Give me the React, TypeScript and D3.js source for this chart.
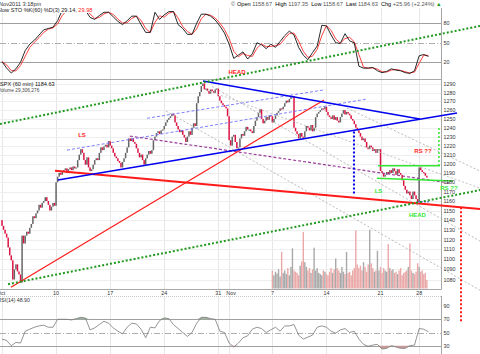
import { useEffect, useRef } from "react";
import * as d3 from "d3";

const W = 480;
const H = 354;
const FONT = "Arial, 'Liberation Sans', sans-serif";

// ── Price: 60-min closes, 7 bars a day (Nov 25 half day = 4, Nov 28 = 6 to 3:18pm)
const FIRST_OPEN = 1140;
const hourlyClose = [
  1134, 1130, 1126, 1122, 1112, 1104, 1099, // Oct 3
  1080, 1090, 1095, 1088, 1085, 1077, 1124, // Oct 4
  1116, 1124, 1128, 1126, 1132, 1136, 1144, // Oct 5
  1142, 1147, 1150, 1156, 1153, 1158, 1160, // Oct 6
  1164, 1160, 1156, 1150, 1154, 1158, 1155, // Oct 7
  1180, 1186, 1190, 1188, 1191, 1193, 1195, // Oct 10
  1190, 1194, 1196, 1193, 1197, 1195, 1196, // Oct 11
  1204, 1210, 1216, 1212, 1204, 1199, 1207, // Oct 12
  1196, 1192, 1194, 1199, 1204, 1206, 1204, // Oct 13
  1212, 1218, 1215, 1219, 1221, 1218, 1225, // Oct 14
  1220, 1217, 1212, 1208, 1206, 1203, 1201, // Oct 17
  1196, 1202, 1206, 1212, 1218, 1228, 1225, // Oct 18
  1228, 1224, 1222, 1217, 1212, 1207, 1210, // Oct 19
  1204, 1199, 1206, 1210, 1214, 1211, 1215, // Oct 20
  1226, 1230, 1234, 1236, 1233, 1237, 1238, // Oct 21
  1242, 1246, 1249, 1251, 1253, 1256, 1254, // Oct 24
  1246, 1242, 1238, 1235, 1237, 1232, 1229, // Oct 25
  1224, 1230, 1236, 1232, 1240, 1245, 1242, // Oct 26
  1268, 1276, 1281, 1288, 1291, 1284, 1285, // Oct 27
  1282, 1279, 1284, 1282, 1280, 1284, 1285, // Oct 28
  1276, 1271, 1268, 1266, 1264, 1262, 1253, // Oct 31
  1226, 1220, 1230, 1232, 1224, 1217, 1218, // Nov 1
  1228, 1233, 1231, 1236, 1241, 1238, 1238, // Nov 2
  1236, 1234, 1242, 1248, 1252, 1257, 1261, // Nov 3
  1250, 1245, 1248, 1252, 1249, 1254, 1253, // Nov 4
  1246, 1250, 1254, 1257, 1259, 1262, 1261, // Nov 7
  1264, 1268, 1271, 1269, 1273, 1276, 1276, // Nov 8
  1240, 1236, 1233, 1228, 1234, 1230, 1229, // Nov 9
  1236, 1242, 1240, 1237, 1243, 1236, 1240, // Nov 10
  1252, 1256, 1258, 1260, 1262, 1261, 1264, // Nov 11
  1258, 1254, 1252, 1250, 1254, 1249, 1252, // Nov 14
  1248, 1246, 1252, 1256, 1260, 1255, 1258, // Nov 15
  1256, 1254, 1250, 1248, 1244, 1240, 1237, // Nov 16
  1234, 1230, 1226, 1228, 1224, 1218, 1216, // Nov 17
  1220, 1218, 1214, 1216, 1212, 1216, 1216, // Nov 18
  1192, 1190, 1186, 1188, 1191, 1189, 1193, // Nov 21
  1190, 1195, 1192, 1188, 1194, 1190, 1188, // Nov 22
  1182, 1176, 1172, 1168, 1170, 1166, 1162, // Nov 23
  1170, 1166, 1162, 1159,                   // Nov 25
  1196, 1193, 1191, 1190, 1187, 1185,       // Nov 28
];

// volume from the Nov 7 bar onward
const VOL_START = 175;
const volume = [
  30, 22, 28, 25, 32, 20, 61, 26, 30, 24, 34, 22, 36, 67, 30, 28, 26, 22, 38, 45,
  94, 44, 36, 30, 34, 26, 32, 68, 30, 34, 26, 24, 22, 30, 28, 24, 22, 28, 34, 26,
  32, 50, 34, 30, 26, 36, 28, 24, 61, 26, 28, 22, 30, 34, 97, 40, 34, 38, 30, 44,
  36, 28, 40, 98, 42, 34, 28, 30, 63, 30, 36, 26, 34, 30, 28, 74, 34, 30, 32, 26,
  28, 24, 30, 34, 22, 26, 28, 30, 36, 75, 30, 26, 24, 28, 42, 36, 28, 30, 24, 26, 14,
];

// indicators, one reading every 3 bars
const STEP = 3;
const stochK = [
  21, 11, 3.5, 10, 20, 38, 48, 54, 62, 70, 72, 74, 84, 100, 100, 100, 100, 100, 100, 89,
  86, 92, 97, 97, 90, 83, 78, 84, 91, 91, 78, 66, 66, 97, 86, 93, 98, 98, 78, 72,
  63, 63, 80, 94, 94, 91, 85, 76, 65, 48, 26, 31, 36, 25, 33, 50, 47, 41, 48, 43,
  52, 61, 68, 62, 43, 31, 24, 35, 45, 77, 76, 62, 50, 49, 64, 53, 50, 14, 11, 11,
  12, 7, 4, 6, 10, 8, 7, 4, 3, 7, 30, 32, 29,
];
const rsi14 = [
  40, 38, 30, 35, 34, 52, 55, 58, 60, 61, 58, 58, 70, 70, 70, 69, 71, 73, 72, 54,
  57, 62, 67, 64, 57, 52, 48, 58, 64, 63, 55, 42, 58, 57, 68, 72, 71, 62, 56, 50,
  44, 50, 64, 73, 73, 71, 70, 52, 50, 34, 28, 34, 42, 45, 55, 58, 56, 50, 54, 58,
  52, 60, 60, 62, 46, 40, 43, 46, 58, 60, 58, 52, 49, 54, 56, 50, 52, 40, 32, 29,
  31, 32, 25, 26, 30, 28, 26, 26, 30, 31, 56, 55, 51,
];

// axis ticks
const priceTicks = [1080, 1090, 1100, 1110, 1120, 1130, 1140, 1150, 1160, 1170, 1180,
  1190, 1200, 1210, 1220, 1230, 1240, 1250, 1260, 1270, 1280, 1290];
const dayTickIdx = [35, 70, 105, 140, 175, 210, 245, 270];
const dayTickLbl = ["10", "17", "24", "31", "7", "14", "21", "28"];
const monthTickIdx = [0, 147];
const monthTickLbl = ["Oct", "Nov"];
const oscTicks = [80, 50, 20];
const rsiTicks = [90, 70, 50, 30];

// hand-drawn lines, [bar, price] end points
const upperGreenDots = [[-1.3, 1244.2], [309.4, 1360.4]];
const lowerGreenDots = [[3.9, 1075.4], [309.4, 1171.6]];
const redNeckline = [[34.3, 1192.3], [309.4, 1151.5]];
const redRising = [[5.8, 1072.5], [208.4, 1271.7]];
const blueSupport = [[36.2, 1182.3], [294.5, 1256.7]];
const blueResist = [[130.1, 1293.9], [270.5, 1249.9]];
const blueDashLow = [[42.1, 1215.0], [236.2, 1272.8]];
const blueDashHigh = [[93.9, 1250.7], [207.8, 1283.3]];
const purpleDash = [[82.8, 1230.6], [290, 1179.1]];
const grayFan1 = [[106.1, 1259.0], [309.4, 1069.5]];
const grayFan2 = [[135.9, 1287.5], [309.4, 1118.4]];
const grayFan3 = [[223.3, 1262.4], [309.4, 1192.0]];
const grayFan4 = [[132, 1283.3], [309.4, 1173.7]];
const blueDrop = [[227.8, 1235.7], [227.8, 1167.3]];
const greenTop = [[243.4, 1197.8], [283.5, 1197.8]];
const greenBase = [[242.7, 1184.4], [291.9, 1181.2]];
const greenTarget = [[282.8, 1239.6], [282.8, 1197.8]];
const blueLowMark = [[269.3, 1159.1], [277, 1159.1]];
const redTarget = [[297.1, 1153.5], [297.1, 1038.8]];

const noteText = ["HEAD", "LS", "RS ??", "LS", "HEAD", "RS ??"];
const noteBar = [152.1, 51.8, 272.5, 243.7, 268.9, 289.3];
const notePrice = [1302.2, 1229.5, 1211.6, 1168.4, 1143.6, 1171.6];

const RED = "#ff1a1a";
const GREEN = "#33e833";
const BLUE = "#0000ee";
const noteColor = [RED, RED, RED, GREEN, GREEN, GREEN];

export default function App() {
  const svgRef = useRef<SVGSVGElement>(null);

  useEffect(() => {
    document.body.style.margin = "0";
    const svg = d3.select(svgRef.current!);
    svg.selectAll("*").remove();

    const x = d3.scaleLinear().domain([0, 275]).range([2, 2 + 275 * 1.545]);
    const yP = d3.scaleLog().domain([1080, 1290]).range([279.5, 84.3]);
    const yS = d3.scaleLinear().domain([0, 100]).range([75.3, 10.3]);
    const yR = d3.scaleLinear().domain([0, 100]).range([365.5, 299.5]);
    const yV = d3.scaleLinear().domain([0, 100]).range([288.5, 228.5]);
    const PLOT_R = 441.5;

    svg.append("rect").attr("width", W).attr("height", H).attr("fill", "#fff");

    // ── grids ─────────────────────────────────────────────
    const gridIdx = [0, ...dayTickIdx, 147];
    const grid = svg.append("g").attr("stroke", "#e6e6e6").attr("stroke-width", 1);
    gridIdx.forEach((i) => {
      const gx = Math.round(x(i)) + 0.5;
      [[8, 79], [79, 289], [296, 354]].forEach(([a, b]) => {
        grid.append("line").attr("x1", gx).attr("x2", gx).attr("y1", a).attr("y2", b);
      });
    });
    priceTicks.forEach((p) => {
      const gy = Math.round(yP(p)) + 0.5;
      grid.append("line").attr("x1", 0).attr("x2", PLOT_R).attr("y1", gy).attr("y2", gy)
        .attr("stroke", "#eeeeee");
    });

    // level lines in oscillator panels
    const level = (yy: number, dashed: boolean) =>
      svg.append("line").attr("x1", 0).attr("x2", PLOT_R)
        .attr("y1", Math.round(yy) + 0.5).attr("y2", Math.round(yy) + 0.5)
        .attr("stroke", dashed ? "#b0b0b0" : "#a0a0a0").attr("stroke-width", 1)
        .attr("stroke-dasharray", dashed ? "6,2,1,2" : null);
    level(yS(80), false); level(yS(50), true); level(yS(20), false);
    level(yR(70), false); level(yR(50), true); level(yR(30), false);

    // panel frames
    const frame = svg.append("g").attr("stroke", "#a8a8a8").attr("stroke-width", 1);
    frame.append("line").attr("x1", 0).attr("x2", PLOT_R).attr("y1", 79.5).attr("y2", 79.5);
    frame.append("line").attr("x1", 0).attr("x2", PLOT_R).attr("y1", 289.5).attr("y2", 289.5);
    frame.append("line").attr("x1", 0).attr("x2", PLOT_R).attr("y1", 296.5).attr("y2", 296.5)
      .attr("stroke", "#c8c8c8").attr("stroke-dasharray", "1,1");
    frame.append("line").attr("x1", PLOT_R).attr("x2", PLOT_R).attr("y1", 8).attr("y2", 289.5);
    frame.append("line").attr("x1", PLOT_R).attr("x2", PLOT_R).attr("y1", 296).attr("y2", 354);

    // ── volume ────────────────────────────────────────────
    volume.forEach((v, k) => {
      const i = VOL_START + k;
      const up = hourlyClose[i] >= hourlyClose[i - 1];
      svg.append("rect")
        .attr("x", x(i) - 0.7).attr("width", 1.4)
        .attr("y", yV(v)).attr("height", yV(0) - yV(v))
        .attr("fill", up ? "#a9a9a9" : "#eaa8a8");
    });

    // ── candles ───────────────────────────────────────────
    hourlyClose.forEach((c, i) => {
      const o = i === 0 ? FIRST_OPEN : hourlyClose[i - 1];
      const top = yP(Math.max(o, c));
      const bot = yP(Math.min(o, c));
      svg.append("rect")
        .attr("x", x(i) - 0.75).attr("width", 1.5)
        .attr("y", top).attr("height", Math.max(1.2, bot - top))
        .attr("fill", c >= o ? "#666" : "#dc1443");
    });

    // ── slow stochastic ───────────────────────────────────
    const stochD = stochK.map((v, j) => (j === 0 ? v : (v + stochK[j - 1]) / 2));
    const oscLine = (ys: d3.ScaleLinear<number, number>) =>
      d3.line<number>().x((_, j) => x(j * STEP)).y((v) => ys(v)).curve(d3.curveLinear);
    svg.append("path").attr("d", oscLine(yS)(stochD)).attr("fill", "none")
      .attr("stroke", "#ff4040").attr("stroke-width", 1);
    svg.append("path").attr("d", oscLine(yS)(stochK)).attr("fill", "none")
      .attr("stroke", "#111").attr("stroke-width", 0.9);

    // ── RSI ───────────────────────────────────────────────
    const over = d3.area<number>().x((_, j) => x(j * STEP))
      .y0(yR(70)).y1((v) => yR(Math.max(v, 70)));
    const under = d3.area<number>().x((_, j) => x(j * STEP))
      .y0(yR(30)).y1((v) => yR(Math.min(v, 30)));
    svg.append("path").attr("d", over(rsi14)).attr("fill", "#9fb59f");
    svg.append("path").attr("d", under(rsi14)).attr("fill", "#c99a9a");
    svg.append("path").attr("d", oscLine(yR)(rsi14)).attr("fill", "none")
      .attr("stroke", "#7a7a7a").attr("stroke-width", 0.8);

    // ── hand-drawn lines ──────────────────────────────────
    const seg = (pts: number[][], color: string, width: number, dash: string | null) =>
      svg.append("line")
        .attr("x1", x(pts[0][0])).attr("y1", yP(pts[0][1]))
        .attr("x2", x(pts[1][0])).attr("y2", yP(pts[1][1]))
        .attr("stroke", color).attr("stroke-width", width)
        .attr("stroke-dasharray", dash);

    seg(grayFan1, "#a8a8a8", 0.8, "2,2");
    seg(grayFan2, "#a8a8a8", 0.8, "2,2");
    seg(grayFan3, "#a8a8a8", 0.8, "2,2");
    seg(grayFan4, "#b4b4b4", 0.8, "2,2");
    seg(blueDashLow, "#6f6fff", 0.9, "3,2");
    seg(blueDashHigh, "#6f6fff", 0.9, "3,2");
    seg(purpleDash, "#9b3c9b", 1.2, "3,2");
    seg(redRising, RED, 1.2, null);
    seg(redNeckline, RED, 2, null);
    seg(blueSupport, BLUE, 1.5, null);
    seg(blueResist, BLUE, 1.5, null);
    seg(blueDrop, BLUE, 2, "2,2");
    seg(blueLowMark, "#4d4dff", 1, "2,1");
    seg(greenTop, GREEN, 1.5, null);
    seg(greenBase, GREEN, 1.5, null);
    seg(greenTarget, GREEN, 1.5, "2,2");
    seg(upperGreenDots, "#1f9a1f", 2, "2,2");
    seg(lowerGreenDots, "#1f9a1f", 2, "2,2");
    seg(redTarget, RED, 2, "2,2");

    noteText.forEach((t, k) => {
      svg.append("text")
        .attr("x", x(noteBar[k])).attr("y", yP(notePrice[k]))
        .attr("text-anchor", "middle")
        .attr("font-family", FONT).attr("font-size", 6).attr("font-weight", "bold")
        .attr("fill", noteColor[k]).text(t);
    });

    // ── axis labels ───────────────────────────────────────
    const axisText = (tx: number, ty: number, t: string, anchor = "start") =>
      svg.append("text").attr("x", tx).attr("y", ty).attr("text-anchor", anchor)
        .attr("font-family", FONT).attr("font-size", 5.4).attr("fill", "#333").text(t);
    priceTicks.forEach((p) => axisText(443.5, yP(p) + 2, String(p)));
    oscTicks.forEach((v) => axisText(443.5, yS(v) + 2, String(v)));
    rsiTicks.forEach((v) => axisText(443.5, yR(v) + 2, String(v)));
    dayTickIdx.forEach((i, k) => axisText(x(i), 295, dayTickLbl[k], "middle"));
    monthTickIdx.forEach((i, k) =>
      axisText(x(i) + (k === 0 ? -1 : 2), 295, monthTickLbl[k], "middle"));

    // ── headers ───────────────────────────────────────────
    svg.append("text").attr("x", -1).attr("y", 5.5)
      .attr("font-family", FONT).attr("font-size", 5.6).attr("fill", "#333")
      .text("Nov2011 3:18pm");
    svg.append("text").attr("x", 231).attr("y", 5.5).attr("font-family", FONT)
      .attr("font-size", 5.6).attr("fill", "#555").text("©");

    const quote = svg.append("text").attr("x", 237).attr("y", 5.5)
      .attr("font-family", FONT).attr("font-size", 5.6).attr("xml:space", "preserve");
    [["Open ", "#000"], ["1158.67  ", "#555"], ["High ", "#000"], ["1197.35  ", "#555"],
     ["Low ", "#000"], ["1158.67  ", "#555"], ["Last ", "#000"], ["1184.63  ", "#555"],
     ["Chg ", "#000"], ["+25.96 (+2.24%) ", "#555"], ["▲", "#1c9a1c"]]
      .forEach(([t, c]) => quote.append("tspan").attr("fill", c).text(t));

    const stoLbl = svg.append("text").attr("x", -3).attr("y", 12)
      .attr("font-family", FONT).attr("font-size", 5.6).attr("fill", "#222");
    stoLbl.append("tspan").text("Slow STO %K(60) %D(3) 29.14, ");
    stoLbl.append("tspan").attr("fill", RED).text("29.98");
    const bb = (stoLbl.node() as SVGTextElement).getBBox();
    svg.insert("rect", () => stoLbl.node() as SVGTextElement)
      .attr("x", 0).attr("y", 7).attr("width", bb.x + bb.width).attr("height", 6)
      .attr("fill", "#fff");

    svg.append("text").attr("x", -3).attr("y", 86).attr("font-family", FONT)
      .attr("font-size", 5.6).attr("fill", "#111").text("$SPX (60 min) 1184.63");
    svg.append("text").attr("x", -2).attr("y", 91.5).attr("font-family", FONT)
      .attr("font-size", 4.8).attr("fill", "#444").text("Volume 29,306,276");
    svg.append("text").attr("x", -2.5).attr("y", 302).attr("font-family", FONT)
      .attr("font-size", 5.2).attr("fill", "#333").text("RSI(14) 48.90");
  }, []);

  return (
    <svg ref={svgRef} width={W} height={H} style={{ display: "block" }} />
  );
}
